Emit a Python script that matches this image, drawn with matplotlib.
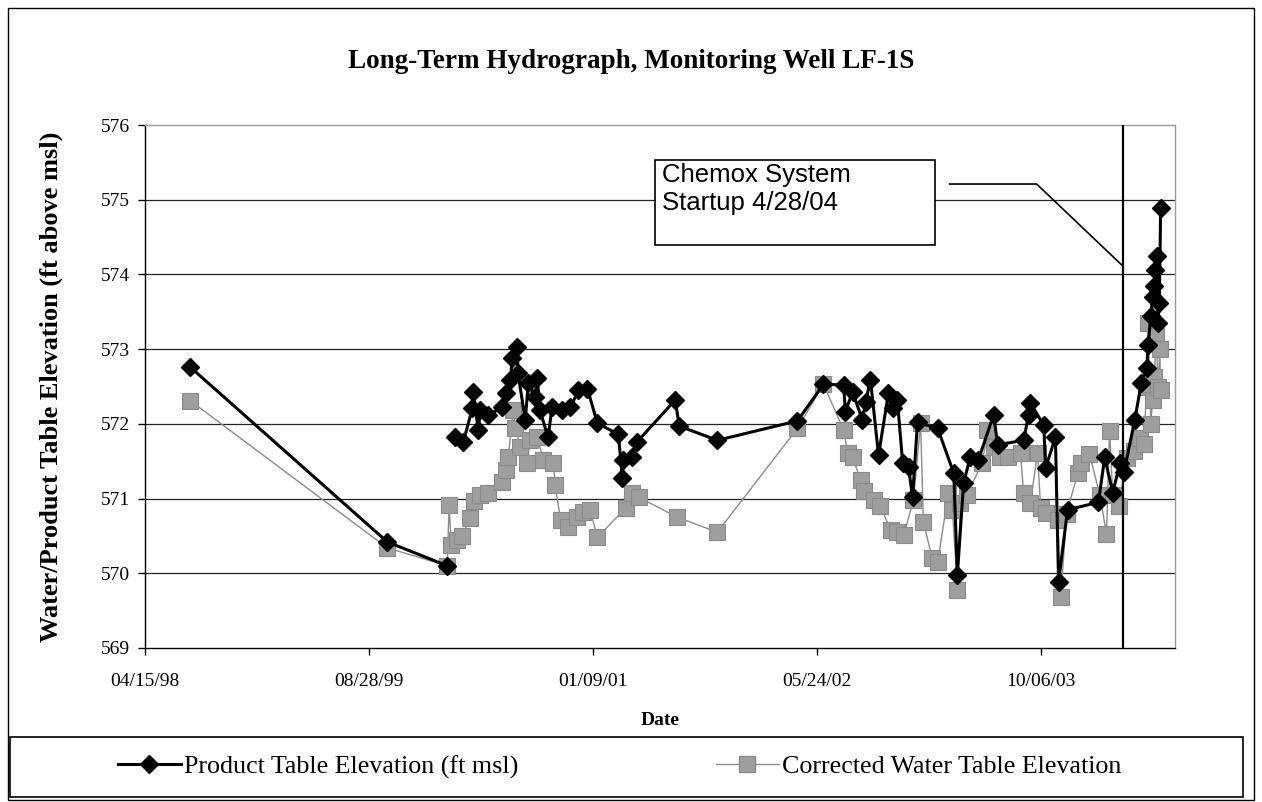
import numpy as np
import pandas as pd
import matplotlib
matplotlib.use("Agg")
import matplotlib.pyplot as plt
import matplotlib.dates as mdates
from matplotlib.patches import Rectangle
from matplotlib.lines import Line2D

# product table readings (None = no product measured that day)
product_dates = [
    "1998-07-25", "1999-10-08", "2000-02-19", "2000-02-23", "2000-03-08", "2000-03-26",
    "2000-04-15", "2000-04-17", "2000-04-28", "2000-05-03", "2000-05-21", "2000-06-21",
    "2000-06-28", "2000-07-09", "2000-07-13", "2000-07-24", "2000-07-26", "2000-08-11",
    "2000-08-18", "2000-09-02", "2000-09-07", "2000-09-13", "2000-10-01", "2000-10-10",
    "2000-11-02", "2000-11-20", "2000-12-08", "2000-12-28", "2001-01-19", "2001-03-07",
    "2001-03-16", "2001-03-18", "2001-04-07", "2001-04-18", "2001-07-12", "2001-07-21",
    "2001-10-14", "2002-04-11", "2002-06-08", "2002-07-23", "2002-07-27", "2002-08-12",
    "2002-09-03", "2002-09-10", "2002-09-21", "2002-10-09", "2002-10-31", "2002-11-11",
    "2002-11-20", "2002-12-02", "2002-12-15", "2002-12-24", "2003-01-04", "2003-02-18",
    "2003-03-26", "2003-04-03", "2003-04-17", "2003-05-02", "2003-05-20", "2003-06-23",
    "2003-07-02", "2003-08-29", "2003-09-09", "2003-09-13", "2003-10-13", "2003-10-17",
    "2003-11-08", "2003-11-15", "2003-12-05", "2004-02-12", "2004-02-26", "2004-03-15",
    "2004-03-31", "2004-04-09", "2004-05-03", "2004-05-18", "2004-05-30", "2004-06-02",
    "2004-06-08", "2004-06-12", "2004-06-15", "2004-06-18", "2004-06-21", "2004-06-24",
    "2004-06-27", "2004-06-30",
]
product_elev = [
    572.76, 570.42, 570.10, None, 571.82, 571.76,
    572.21, 572.43, 571.92, 572.18, 572.12, 572.22,
    572.41, 572.59, 572.88, 573.03, 572.68, 572.05,
    572.55, 572.36, 572.61, 572.18, 571.82, 572.22,
    572.18, 572.22, 572.45, 572.47, 572.01, 571.86,
    571.27, 571.51, 571.56, 571.76, 572.32, 571.97,
    571.78, 572.04, 572.53, 572.52, 572.16, 572.43,
    572.05, 572.29, 572.59, 571.58, 572.41, 572.21,
    572.32, 571.47, 571.42, 571.02, 572.02, 571.94,
    571.34, 569.98, 571.21, 571.56, 571.52, 572.12,
    571.72, 571.78, 572.12, 572.28, 571.98, 571.41,
    571.82, 569.88, 570.85, 570.95, 571.55, 571.08,
    571.47, 571.35, 572.05, 572.55, 572.75, 573.05,
    573.45, 573.70, 573.85, 574.06, 574.25, 573.35,
    573.62, 574.89,
]

# corrected water table readings
water_dates = [
    "1998-07-25", "1999-10-08", "2000-02-19", "2000-02-23", "2000-02-28", "2000-03-12",
    "2000-03-23", "2000-04-10", "2000-04-19", "2000-05-03", "2000-05-21", "2000-06-21",
    "2000-06-28", "2000-07-04", "2000-07-15", "2000-07-20", "2000-07-31", "2000-08-15",
    "2000-08-22", "2000-09-07", "2000-09-20", "2000-10-13", "2000-10-17", "2000-10-29",
    "2000-11-14", "2000-12-05", "2000-12-19", "2001-01-03", "2001-01-19", "2001-03-23",
    "2001-04-07", "2001-04-21", "2001-07-17", "2001-10-14", "2002-04-11", "2002-06-08",
    "2002-07-23", "2002-08-01", "2002-08-12", "2002-08-30", "2002-09-06", "2002-09-28",
    "2002-10-13", "2002-11-05", "2002-11-20", "2002-12-04", "2002-12-26", "2003-01-11",
    "2003-01-17", "2003-02-06", "2003-02-18", "2003-03-14", "2003-03-23", "2003-04-03",
    "2003-04-10", "2003-04-24", "2003-05-29", "2003-06-09", "2003-06-23", "2003-07-08",
    "2003-07-24", "2003-08-22", "2003-08-29", "2003-09-13", "2003-09-29", "2003-10-06",
    "2003-10-17", "2003-11-13", "2003-11-20", "2003-12-03", "2003-12-28", "2004-01-03",
    "2004-01-23", "2004-02-15", "2004-03-01", "2004-03-08", "2004-03-15", "2004-03-28",
    "2004-04-16", "2004-05-01", "2004-05-14", "2004-05-23", "2004-05-30", "2004-06-02",
    "2004-06-08", "2004-06-12", "2004-06-16", "2004-06-20", "2004-06-24", "2004-06-28",
    "2004-06-30",
]
water_elev = [
    572.31, 570.34, 570.10, 570.91, 570.38, 570.45,
    570.50, 570.74, 570.97, 571.05, 571.07, 571.22,
    571.38, 571.55, 572.18, 571.95, 571.69, 571.48,
    571.78, 571.82, 571.52, 571.48, 571.18, 570.71,
    570.62, 570.75, 570.82, 570.85, 570.48, 570.87,
    571.07, 571.02, 570.75, 570.55, 571.94, 572.53,
    571.92, 571.61, 571.55, 571.25, 571.10, 570.98,
    570.90, 570.58, 570.55, 570.51, 570.98, 572.01,
    570.69, 570.20, 570.15, 571.07, 570.85, 569.78,
    570.94, 571.05, 571.48, 571.92, 571.69, 571.55,
    571.56, 571.61, 571.07, 570.94, 571.61, 570.87,
    570.81, 570.71, 569.68, 570.80, 571.34, 571.48,
    571.60, 571.05, 570.53, 571.91, 571.05, 570.90,
    571.54, 571.64, 571.81, 571.73, 572.50, 573.35,
    572.00, 572.32, 572.63, 573.18, 572.50, 573.00,
    572.45,
]

startup_date = "2004-04-07"
y_ticks = [569, 570, 571, 572, 573, 574, 575, 576]

serif = "Liberation Serif"
sans = "Liberation Sans"

prod = pd.Series(product_elev, index=pd.to_datetime(product_dates), dtype=float)
water = pd.Series(water_elev, index=pd.to_datetime(water_dates), dtype=float)

fig = plt.figure(figsize=(12.62, 8.02), dpi=100)
ax = fig.add_axes([145 / 1262, 1 - 648 / 802, 1030 / 1262, 523 / 802])

x0 = pd.Timestamp("1998-04-15")
ax.set_xlim(x0, x0 + pd.Timedelta(days=2300))
ax.set_ylim(569, 576)

# gridlines
for y in y_ticks[1:-1]:
    ax.axhline(y, color="#222222", lw=0.9, zorder=1)

# series
ax.plot(water.index, water.values, color="#8c8c8c", lw=1.0, marker="s", ms=11,
        mfc="#9e9e9e", mec="#8a8a8a", mew=0.8, zorder=2)
ax.plot(prod.index, prod.values, color="black", lw=2.2, marker="D", ms=9.5,
        mfc="black", mec="black", zorder=3)

# startup marker line and callout
ax.axvline(pd.Timestamp(startup_date), color="black", lw=1.6, zorder=4)
box_left = pd.Timestamp("2001-05-28")
box_right = pd.Timestamp("2003-02-11")
ax.add_patch(Rectangle((mdates.date2num(box_left), 574.39),
                       mdates.date2num(box_right) - mdates.date2num(box_left), 1.14,
                       facecolor="white", edgecolor="black", lw=1.2, zorder=5))
ax.text(pd.Timestamp("2001-06-12"), 575.49, "Chemox System\nStartup 4/28/04",
        family=sans, fontsize=18.5, va="top", ha="left", linespacing=1.2, zorder=6)
ax.plot([pd.Timestamp("2003-03-17"), pd.Timestamp("2003-09-27"), pd.Timestamp(startup_date)],
        [575.21, 575.21, 574.11], color="black", lw=1.2, zorder=5)

# axes styling
for side in ["top", "right"]:
    ax.spines[side].set_color("#9a9a9a")
    ax.spines[side].set_linestyle((0, (1, 1)))
    ax.spines[side].set_linewidth(1.0)
for side in ["left", "bottom"]:
    ax.spines[side].set_color("black")
    ax.spines[side].set_linewidth(1.0)

ax.set_yticks(y_ticks)
ax.set_yticklabels([str(v) for v in y_ticks], family=serif, fontsize=14)
ax.set_xticks([x0 + pd.Timedelta(days=500 * k) for k in range(5)])
ax.xaxis.set_major_formatter(mdates.DateFormatter("%m/%d/%y"))
for lbl in ax.get_xticklabels():
    lbl.set_family(serif)
    lbl.set_fontsize(14)
ax.tick_params(axis="both", direction="out", length=5, width=1, color="black")
ax.tick_params(axis="x", pad=13)
ax.tick_params(axis="y", pad=6)

ax.set_xlabel("Date", family=serif, fontsize=14, fontweight="bold", labelpad=16)
ax.set_ylabel("Water/Product Table Elevation (ft above msl)", family=serif,
              fontsize=19, fontweight="bold", labelpad=27)

fig.text(0.5, 1 - 62 / 802, "Long-Term Hydrograph, Monitoring Well LF-1S",
         family=serif, fontsize=19.5, fontweight="bold", ha="center", va="center")

# outer chart border and legend frame
fig.add_artist(Rectangle((8 / 1262, 2 / 802), 1246 / 1262, 792 / 802,
                         transform=fig.transFigure, fill=False, edgecolor="black", lw=1.0))
fig.add_artist(Rectangle((10 / 1262, 5 / 802), 1233 / 1262, 60 / 802,
                         transform=fig.transFigure, fill=False, edgecolor="black", lw=1.2))

handles = [
    Line2D([], [], color="black", lw=2.2, marker="D", ms=9.5, mfc="black"),
    Line2D([], [], color="#8c8c8c", lw=1.0, marker="s", ms=11, mfc="#9e9e9e", mec="#8a8a8a"),
]
fig.legend(handles, ["Product Table Elevation (ft msl)", "Corrected Water Table Elevation"],
           loc="center", bbox_to_anchor=(620 / 1262, 1 - 767 / 802), ncol=2, frameon=False,
           prop={"family": serif, "size": 18.7}, handlelength=2.4, handletextpad=0.15,
           columnspacing=7.6)

fig.savefig("out.png", dpi=100)
